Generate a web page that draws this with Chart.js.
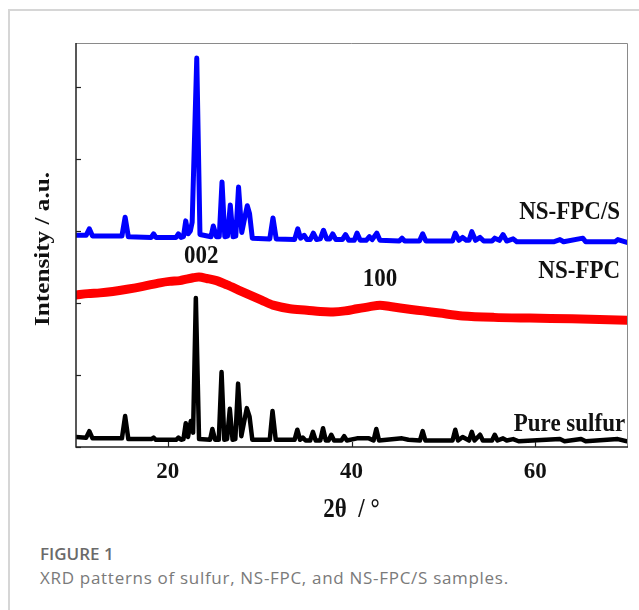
<!DOCTYPE html>
<html lang="en">
<head>
  <meta charset="UTF-8" />
  <title>XRD patterns of sulfur, NS-FPC and NS-FPC/S</title>
  <script src="https://cdn.jsdelivr.net/npm/chart.js"></script>
  <style>
    body {
      margin: 0;
      background: #fff;
    }

    .card {
      position: absolute;
      left: 8px;
      top: 9px;
      width: 640px;
      height: 610px;
      border-top: 2px solid #d6d6d6;
      border-left: 2px solid #d6d6d6;
    }

    .chart-box {
      position: absolute;
      left: 0;
      top: 0;
      width: 639px;
      height: 530px;
    }

    .fig-no {
      position: absolute;
      left: 40px;
      top: 542px;
      font-family: "Open Sans", sans-serif;
      font-weight: 600;
      font-size: 17px;
      color: #6a6a6a;
    }

    .fig-text {
      position: absolute;
      left: 40px;
      top: 566px;
      font-family: "Open Sans", sans-serif;
      font-size: 17px;
      letter-spacing: 0.7px;
      color: #7a7a7a;
    }
  </style>
</head>
<body>
  <div class="card"></div>
  <div class="chart-box">
    <canvas id="xrdChart" width="639" height="530"></canvas>
  </div>
  <div class="fig-no">FIGURE 1</div>
  <div class="fig-text">XRD patterns of sulfur, NS-FPC, and NS-FPC/S samples.</div>

  <script>
    // 2theta ticks shown on the bottom axis
    const xTicks = [20, 40, 60];
    const yTicks = [0, 1, 2, 3, 4, 5];

    // NS-FPC/S (blue), offset trace
    const fpcsX = [10.0, 11.1, 11.45, 11.8, 15.0, 15.35, 15.7, 18.2, 18.45, 18.7, 20.9, 21.15, 21.45, 21.7, 21.95, 22.2, 22.45, 22.65, 23.15, 23.5,
      24.7, 24.95, 25.3, 25.6, 25.9, 26.2, 26.5, 26.8, 27.1, 27.4, 27.7, 28.05, 28.35, 28.65, 28.9, 29.2, 31.1, 31.45, 31.8,
      33.8, 34.15, 34.45, 34.85, 35.15, 35.5, 35.85, 36.2, 36.6, 36.95, 37.3, 37.65, 37.95, 38.3, 39.0, 39.35, 39.7, 40.3, 40.6, 40.95,
      41.6, 41.95, 42.25, 42.75, 43.1, 45.2, 45.5, 45.8, 47.4, 47.75, 48.1, 51.0, 51.3, 51.7, 52.1, 52.5, 52.8, 53.1, 53.5, 54.0, 54.4,
      55.3, 55.6, 56.1, 56.5, 56.9, 57.6, 58.0, 62.0, 62.7, 63.1, 65.2, 65.5, 68.7, 69.0, 70.0];
    const fpcsY = [2.94, 2.94, 3.03, 2.93, 2.93, 3.19, 2.92, 2.91, 2.96, 2.91, 2.91, 2.96, 2.91, 2.92, 3.14, 2.96, 3.0, 3.12, 5.40, 2.95,
      2.92, 3.07, 2.92, 2.92, 3.68, 2.92, 2.93, 3.36, 2.92, 2.93, 3.61, 2.98, 3.17, 3.35, 3.24, 2.90, 2.89, 3.18, 2.89,
      2.88, 3.03, 2.90, 2.94, 2.88, 2.88, 2.97, 2.88, 2.89, 3.01, 2.89, 2.89, 2.96, 2.88, 2.88, 2.95, 2.87, 2.87, 2.97, 2.87,
      2.87, 2.92, 2.88, 2.97, 2.87, 2.86, 2.90, 2.86, 2.86, 2.96, 2.86, 2.86, 2.97, 2.87, 2.91, 2.87, 2.87, 2.99, 2.87, 2.91, 2.86,
      2.86, 2.90, 2.87, 2.95, 2.86, 2.89, 2.85, 2.85, 2.88, 2.85, 2.90, 2.85, 2.85, 2.88, 2.84];

    // NS-FPC (red), broad 002 and 100 humps
    const fpcX = [10.0, 11.3, 12.6, 14.0, 15.55, 17.3, 19.15, 20.2, 21.3, 22.0, 22.75, 23.4, 24.25, 25.3, 26.45, 27.7, 28.95, 30.2, 31.45,
      33.3, 35.15, 36.6, 38.0, 39.3, 40.6, 42.0, 43.1, 44.2, 45.3, 46.5, 47.8, 49.6, 52.1, 55.5, 59.4, 64.0, 70.0];
    const fpcY = [2.11, 2.13, 2.14, 2.16, 2.19, 2.23, 2.28, 2.30, 2.31, 2.33, 2.35, 2.36, 2.34, 2.31, 2.25, 2.18, 2.11, 2.04, 1.97,
      1.92, 1.90, 1.88, 1.875, 1.89, 1.92, 1.95, 1.97, 1.95, 1.93, 1.91, 1.89, 1.86, 1.82, 1.80, 1.79, 1.78, 1.76];

    // Pure sulfur (black)
    const sulfurX = [10.0, 11.1, 11.45, 11.8, 15.0, 15.35, 15.7, 18.2, 18.45, 18.7, 20.9, 21.15, 21.45, 21.7, 21.95, 22.2, 22.5, 22.75, 23.05, 23.4,
      24.6, 24.85, 25.15, 25.55, 25.85, 26.15, 26.45, 26.75, 27.05, 27.35, 27.65, 28.0, 28.6, 28.9, 29.2, 31.1, 31.4, 31.75,
      33.8, 34.1, 34.4, 34.7, 35.0, 35.5, 35.8, 36.1, 36.6, 36.9, 37.2, 37.5, 37.8, 38.1, 38.9, 39.2, 39.5, 40.6, 41.9, 42.4, 42.7, 43.0,
      45.5, 46.2, 47.45, 47.75, 48.05, 51.0, 51.3, 51.6, 52.1, 52.8, 53.1, 53.4, 54.0, 54.3, 55.3, 55.6, 55.9, 56.5, 56.9,
      57.6, 58.2, 62.7, 63.2, 65.0, 65.5, 69.0, 70.0];
    const sulfurY = [0.14, 0.13, 0.22, 0.12, 0.12, 0.43, 0.11, 0.11, 0.13, 0.10, 0.10, 0.13, 0.10, 0.11, 0.33, 0.14, 0.36, 0.20, 2.07, 0.11,
      0.10, 0.25, 0.10, 0.10, 1.04, 0.10, 0.11, 0.53, 0.10, 0.11, 0.88, 0.15, 0.54, 0.42, 0.10, 0.10, 0.50, 0.10,
      0.10, 0.24, 0.10, 0.13, 0.09, 0.09, 0.21, 0.09, 0.09, 0.26, 0.09, 0.09, 0.17, 0.09, 0.09, 0.15, 0.09, 0.12, 0.12, 0.09, 0.25, 0.09,
      0.12, 0.10, 0.09, 0.22, 0.09, 0.09, 0.24, 0.09, 0.14, 0.09, 0.21, 0.09, 0.17, 0.09, 0.09, 0.17, 0.09, 0.12, 0.09,
      0.11, 0.08, 0.11, 0.08, 0.11, 0.08, 0.11, 0.08];

    const toPoints = (xs, ys) => xs.map((x, i) => ({ x: x, y: ys[i] }));

    const serif = '"Liberation Serif", "Times New Roman", serif';

    // labels drawn on the plot, in data coordinates
    const notes = [
      { text: '002', x: 23.65, y: 2.65, align: 'center' },
      { text: '100', x: 43.1, y: 2.33, align: 'center' },
      { text: 'NS-FPC/S', x: 69.25, y: 3.25, align: 'right' },
      { text: 'NS-FPC', x: 69.25, y: 2.44, align: 'right' },
      { text: 'Pure sulfur', x: 69.8, y: 0.31, align: 'right' }
    ];

    const framePlugin = {
      id: 'frame',
      afterDatasetsDraw(chart) {
        const { ctx, chartArea: a, scales } = chart;
        ctx.save();

        // top and right border, light
        ctx.strokeStyle = '#8a8a8a';
        ctx.lineWidth = 1;
        ctx.beginPath();
        ctx.moveTo(a.left, a.top + 0.5);
        ctx.lineTo(a.right + 0.5, a.top + 0.5);
        ctx.lineTo(a.right + 0.5, a.bottom);
        ctx.stroke();

        // left and bottom axes
        ctx.strokeStyle = '#222';
        ctx.lineWidth = 1.5;
        ctx.beginPath();
        ctx.moveTo(a.left, a.top);
        ctx.lineTo(a.left, a.bottom);
        ctx.lineTo(a.right + 1, a.bottom);
        ctx.stroke();

        // inward ticks
        ctx.lineWidth = 1.2;
        scales.y.ticks.forEach(t => {
          const py = Math.round(scales.y.getPixelForValue(t.value)) + 0.5;
          ctx.beginPath();
          ctx.moveTo(a.left, py);
          ctx.lineTo(a.left + 5, py);
          ctx.stroke();
        });
        scales.x.ticks.forEach(t => {
          const px = Math.round(scales.x.getPixelForValue(t.value)) + 0.5;
          ctx.beginPath();
          ctx.moveTo(px, a.bottom);
          ctx.lineTo(px, a.bottom - 5);
          ctx.stroke();
        });

        // annotations
        ctx.fillStyle = '#111';
        ctx.font = 'bold 23px ' + serif;
        ctx.textBaseline = 'middle';
        notes.forEach(n => {
          const px = scales.x.getPixelForValue(n.x);
          const py = scales.y.getPixelForValue(n.y);
          ctx.save();
          ctx.translate(px, py);
          ctx.scale(1, 1.1);
          ctx.textAlign = n.align;
          ctx.fillText(n.text, 0, 0);
          ctx.restore();
        });

        // axis titles
        ctx.save();
        ctx.translate(44, (a.top + a.bottom) / 2 + 4);
        ctx.rotate(-Math.PI / 2);
        ctx.scale(1.2, 1);
        ctx.textAlign = 'center';
        ctx.font = 'bold 21px ' + serif;
        ctx.fillText('Intensity / a.u.', 0, 0);
        ctx.restore();

        ctx.save();
        ctx.translate((a.left + a.right) / 2, 510);
        ctx.scale(1, 1.15);
        ctx.textAlign = 'center';
        ctx.font = 'bold 23px ' + serif;
        ctx.fillText('2\u03B8  / \u00B0', 0, 0);
        ctx.restore();

        ctx.restore();
      }
    };

    new Chart(document.getElementById('xrdChart'), {
      type: 'line',
      data: {
        datasets: [
          {
            label: 'Pure sulfur',
            data: toPoints(sulfurX, sulfurY),
            borderColor: '#000000',
            borderWidth: 4.5
          },
          {
            label: 'NS-FPC',
            data: toPoints(fpcX, fpcY),
            borderColor: '#ff0000',
            borderWidth: 9,
            tension: 0.3
          },
          {
            label: 'NS-FPC/S',
            data: toPoints(fpcsX, fpcsY),
            borderColor: '#0000ff',
            borderWidth: 5
          }
        ]
      },
      options: {
        responsive: false,
        animation: false,
        elements: {
          point: { radius: 0 },
          line: { tension: 0, borderJoinStyle: 'round', borderCapStyle: 'round' }
        },
        layout: {
          padding: { top: 43, right: 12, left: 0, bottom: 0 }
        },
        plugins: {
          legend: { display: false },
          tooltip: { enabled: false }
        },
        scales: {
          x: {
            type: 'linear',
            min: 10,
            max: 70,
            afterBuildTicks: (axis) => { axis.ticks = xTicks.map(v => ({ value: v })); },
            afterFit: (axis) => { axis.height = 83; },
            grid: { display: false, drawTicks: false },
            border: { display: false },
            ticks: {
              color: '#111',
              padding: 11,
              font: { family: serif, weight: 'bold', size: 23 }
            }
          },
          y: {
            min: 0,
            max: 5.61,
            afterBuildTicks: (axis) => { axis.ticks = yTicks.map(v => ({ value: v })); },
            afterFit: (axis) => { axis.width = 76; },
            grid: { display: false, drawTicks: false },
            border: { display: false },
            ticks: { display: false }
          }
        }
      },
      plugins: [framePlugin]
    });
  </script>
</body>
</html>
